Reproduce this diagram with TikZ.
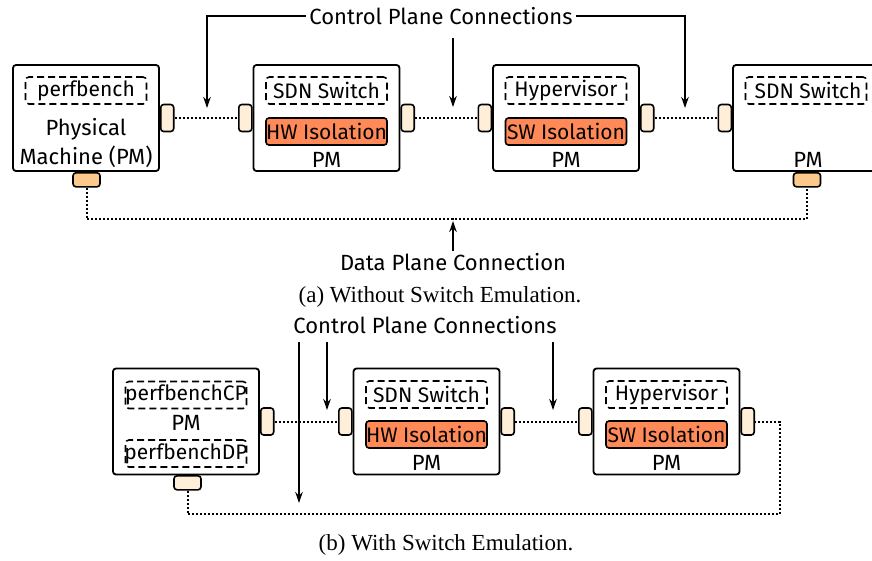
\documentclass[tikz,border=0pt]{standalone}
\usepackage{fontspec}
\setmainfont{Fira Sans}
\newfontfamily\capfont{Liberation Serif}
\usetikzlibrary{arrows.meta}

\definecolor{isofill}{RGB}{255,138,88}
\definecolor{portlight}{RGB}{255,238,216}
\definecolor{portdark}{RGB}{251,201,140}

\tikzset{
  pmbox/.style={draw, line width=1.8pt, rounded corners=3pt, fill=white,
    minimum width=146pt, minimum height=106pt, inner sep=0pt},
  swbox/.style={draw, line width=1.6pt, dash pattern=on 7pt off 4pt, rounded corners=3.5pt,
    minimum width=121pt, minimum height=27pt, inner sep=0pt},
  isobox/.style={draw, line width=1.6pt, rounded corners=3pt, fill=isofill,
    minimum width=121pt, minimum height=27pt, inner sep=0pt},
  sideport/.style={draw, line width=1.6pt, rounded corners=3pt, fill=portlight,
    minimum width=13pt, minimum height=27pt, inner sep=0pt},
  lowport/.style={draw, line width=1.6pt, rounded corners=3pt,
    minimum width=27pt, minimum height=14pt, inner sep=0pt},
  link/.style={line width=2pt, dash pattern=on 2pt off 2pt},
  ctrl/.style={line width=1.6pt, -{Stealth[length=11pt,width=7.5pt,inset=3.5pt]}},
  lbl/.style={inner sep=0pt, font=\fontsize{22}{25}\selectfont},
  inlbl/.style={inner sep=0pt, font=\fontsize{21}{24}\selectfont},
  captext/.style={inner sep=0pt, font=\capfont\fontsize{23}{26}\selectfont},
}

\begin{document}
\begin{tikzpicture}[x=1pt, y=-1pt]
\useasboundingbox (0,0) rectangle (872,560);
\clip (0,0) rectangle (872,560);

% ---------------- (a) without switch emulation ----------------
\node[pmbox] (a1) at (86,118) {};
\node[pmbox] (a2) at (326.5,118) {};
\node[pmbox] (a3) at (566,118) {};
\node[pmbox] (a4) at (806,118) {};

\node[swbox] (a1s) at ([yshift=27.5pt]a1.center) {};
\node[inlbl] at (a1s) {perfbench};
\node[lbl] at (86,129) {Physical};
\node[lbl] at (86,157) {Machine (PM)};

\node[swbox] (a2s) at ([yshift=27.5pt]a2.center) {};
\node[inlbl] at (a2s) {SDN Switch};
\node[isobox] (a2i) at ([yshift=-13.5pt]a2.center) {};
\node[inlbl] at (a2i) {HW Isolation};
\node[lbl] (a2p) at ([yshift=-42pt]a2.center) {PM};

\node[swbox] (a3s) at ([yshift=27.5pt]a3.center) {};
\node[inlbl] at (a3s) {Hypervisor};
\node[isobox] (a3i) at ([yshift=-13.5pt]a3.center) {};
\node[inlbl] at (a3i) {SW Isolation};
\node[lbl] (a3p) at ([yshift=-42pt]a3.center) {PM};

\node[swbox] (a4s) at ([yshift=27.5pt]a4.center) {};
\node[inlbl] at ([xshift=2pt]a4s.center) {SDN Switch};
\node[lbl] (a4p) at ([xshift=2pt,yshift=-42pt]a4.center) {PM};

% ports
\node[sideport, anchor=west] (a1r) at (a1.east) {};
\node[sideport, anchor=east] (a2l) at (a2.west) {};
\node[sideport, anchor=west] (a2r) at (a2.east) {};
\node[sideport, anchor=east] (a3l) at (a3.west) {};
\node[sideport, anchor=west] (a3r) at (a3.east) {};
\node[sideport, anchor=east] (a4l) at (a4.west) {};
\node[lowport, fill=portdark, anchor=north] (a1b) at (86.5,172) {};
\node[lowport, fill=portdark, anchor=north] (a4b) at (807,172) {};

% control plane links
\draw[link] (a1r.east) -- (a2l.west);
\draw[link] (a2r.east) -- (a3l.west);
\draw[link] (a3r.east) -- (a4l.west);

% data plane link
\coordinate (ad) at (453,219);
\draw[link] (a1b.south) |- (ad) -| (a4b.south);

% labels and pointers
\node[lbl] (actl) at (441,16) {Control Plane Connections};
\coordinate (acL) at (207,108);
\coordinate (acM) at (453,107);
\coordinate (acR) at (685,108);
\draw[ctrl] ([xshift=-3pt]actl.west) -| (acL);
\draw[ctrl] ([xshift=3pt]actl.east) -| (acR);
\draw[ctrl] (453,38) -- (acM);

\node[lbl] (adat) at (453,262) {Data Plane Connection};
\draw[ctrl] (453,251) -- ([yshift=-2pt]ad);

\node[captext] at (440,297) {(a) Without Switch Emulation.};

% ---------------- (b) with switch emulation ----------------
\node[pmbox] (b1) at (186,421.5) {};
\node[pmbox] (b2) at (426.5,421.5) {};
\node[pmbox] (b3) at (666.5,421.5) {};

\node[swbox] (b1c) at (186,395) {};
\node[inlbl] at (b1c) {perfbenchCP};
\node[lbl] at (186,423) {PM};
\node[swbox] (b1d) at (186,453.5) {};
\node[inlbl] at (b1d) {perfbenchDP};

\node[swbox] (b2s) at ([yshift=27pt]b2.center) {};
\node[inlbl] at (b2s) {SDN Switch};
\node[isobox] (b2i) at ([yshift=-13pt]b2.center) {};
\node[inlbl] at (b2i) {HW Isolation};
\node[lbl] at ([yshift=-41pt]b2.center) {PM};

\node[swbox] (b3s) at ([yshift=27pt]b3.center) {};
\node[inlbl] at (b3s) {Hypervisor};
\node[isobox] (b3i) at ([yshift=-13pt]b3.center) {};
\node[inlbl] at (b3i) {SW Isolation};
\node[lbl] at ([yshift=-41pt]b3.center) {PM};

\node[sideport, anchor=west] (b1r) at (b1.east) {};
\node[sideport, anchor=east] (b2l) at (b2.west) {};
\node[sideport, anchor=west] (b2r) at (b2.east) {};
\node[sideport, anchor=east] (b3l) at (b3.west) {};
\node[sideport, anchor=west] (b3r) at (b3.east) {};
\node[lowport, fill=portlight, anchor=north] (b1b) at (187.5,475) {};

\draw[link] (b1r.east) -- (b2l.west);
\draw[link] (b2r.east) -- (b3l.west);

% data plane loop back to the first machine
\coordinate (bdl) at (187.5,514);
\coordinate (bdr) at (780,514);
\draw[link] (b1b.south) -- (bdl) -- (bdr) |- (b3r.east);

\node[lbl] (bctl) at (425,325) {Control Plane Connections};
\coordinate (bcA) at (299,503);
\coordinate (bcB) at (327,410);
\coordinate (bcC) at (553,410);
\draw[ctrl] (299,342) -- (bcA);
\draw[ctrl] (327,342) -- (bcB);
\draw[ctrl] (553,342) -- (bcC);

\node[captext] at (446,545) {(b) With Switch Emulation.};
\end{tikzpicture}
\end{document}
